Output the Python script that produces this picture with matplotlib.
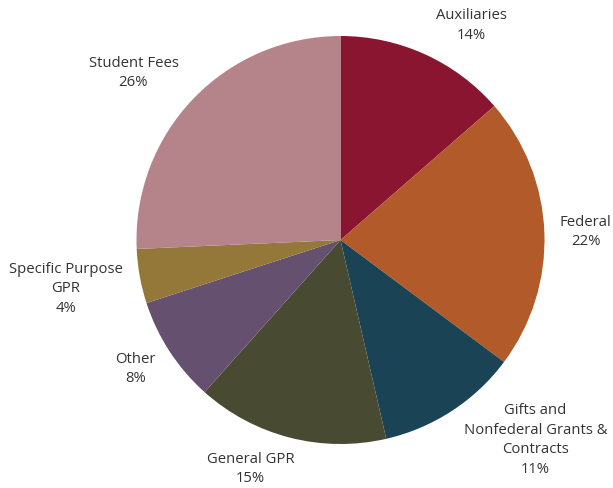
import matplotlib.pyplot as plt

plt.rcParams['font.family'] = ['Open Sans', 'DejaVu Sans']

categories = ['Auxiliaries', 'Federal', 'Gifts and\nNonfederal Grants &\nContracts',
              'General GPR', 'Other', 'Specific Purpose\nGPR', 'Student Fees']
shares = [13.6, 21.6, 11.2, 15.2, 8.4, 4.3, 25.7]
colors = ['#8A1530', '#B35A2B', '#1A4455', '#484A31', '#66506F', '#93783A', '#B5838A']

# label anchor points, in pie-radius units
label_pos = [(0.640, 1.055), (1.201, 0.044), (0.956, -0.975), (-0.441, -1.118),
             (-1.005, -0.627), (-1.348, -0.235), (-1.015, 0.824)]

W, H = 613, 489
cx, cy, r = 340.5, 241, 204

fig = plt.figure(figsize=(W / 100, H / 100), dpi=100)
ax = fig.add_axes([0, 0, 1, 1])
ax.pie(shares, colors=colors, startangle=90, counterclock=False,
       wedgeprops=dict(linewidth=0))
ax.set_aspect('auto')
ax.set_xlim(-cx / r, (W - cx) / r)
ax.set_ylim(-(H - cy) / r, cy / r)
ax.axis('off')

for name, val, (x, y) in zip(categories, shares, label_pos):
    ax.text(x, y, '{}\n{}%'.format(name, round(val)), ha='center', va='center',
            fontsize=10.7, color='#333333', linespacing=1.42)

fig.savefig('out.png', dpi=100)
